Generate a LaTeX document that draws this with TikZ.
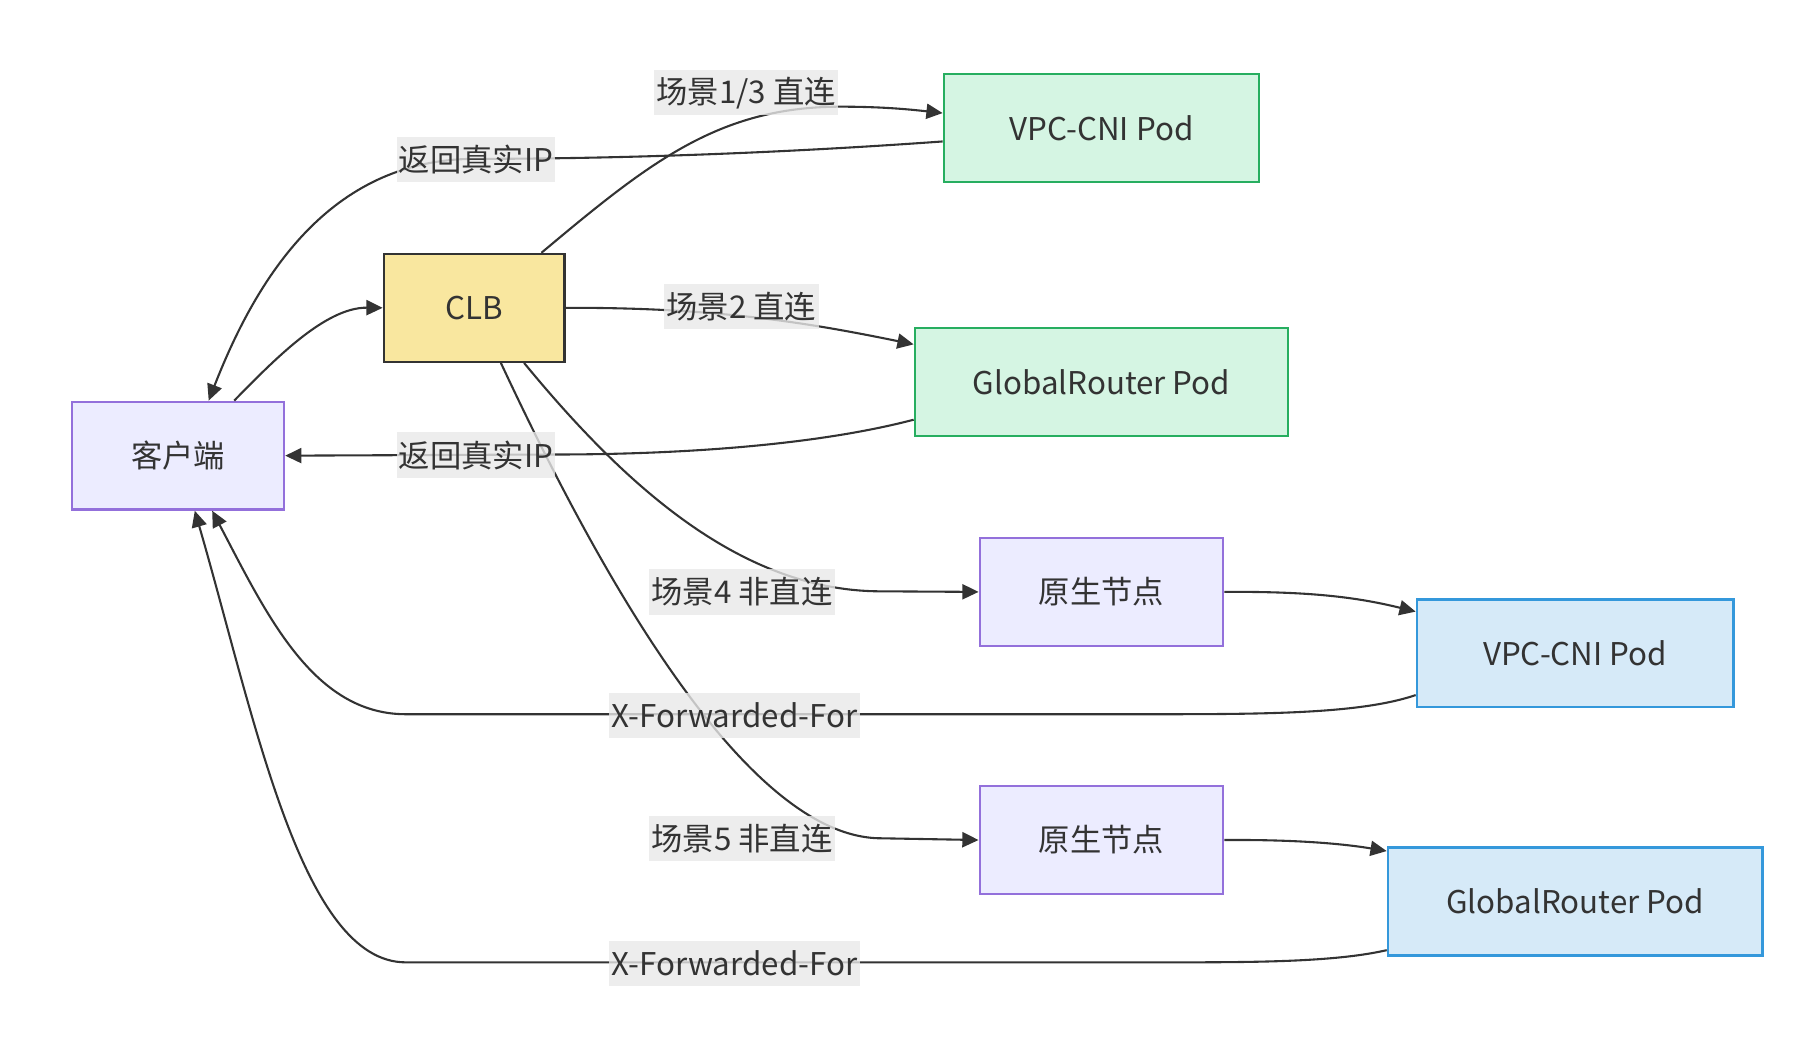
\documentclass[tikz,border=0pt]{standalone}
\usepackage{fontspec}
\setmainfont{Noto Sans CJK SC}
\usetikzlibrary{arrows.meta}
\definecolor{ink}{HTML}{333333}
\definecolor{lav}{HTML}{ECECFF}
\definecolor{lavline}{HTML}{9370DB}
\definecolor{clbfill}{HTML}{F9E79F}
\definecolor{grnfill}{HTML}{D5F5E3}
\definecolor{grnline}{HTML}{27AE60}
\definecolor{bluefill}{HTML}{D6EAF8}
\definecolor{blueline}{HTML}{3498DB}
\definecolor{lblgray}{HTML}{E8E8E8}
\begin{document}
\begin{tikzpicture}[x=0.5pt,y=-0.5pt,>={Triangle[length=7pt,width=6.5pt]},
  box/.style={draw,line width=1pt,minimum height=46.5pt,text=ink,font=\fontsize{13.5}{16}\selectfont},
  plainbox/.style={box,fill=lav,draw=lavline},
  clbbox/.style={box,fill=clbfill,draw=ink},
  grnbox/.style={box,fill=grnfill,draw=grnline},
  bluebox/.style={box,fill=bluefill,draw=blueline},
  lbl/.style={fill=lblgray,fill opacity=.8,text opacity=1,text=ink,inner xsep=1pt,inner ysep=0pt,
    minimum height=19.5pt,font=\fontsize{13.5}{16}\selectfont},
  link/.style={draw=ink,line width=0.9pt,->}]
\useasboundingbox (0,0) rectangle (1568,900.5);
\path
(153.5,393)  node[plainbox,minimum width=91.5pt]  (client) {客户端}
(409,265.5)  node[clbbox,minimum width=78pt]      (clb)    {CLB}
(950,110.5)  node[grnbox,minimum width=136pt]     (vpcA)   {VPC-CNI Pod}
(950,329.5)  node[grnbox,minimum width=161pt]     (grA)    {GlobalRouter Pod}
(950,510.5)  node[plainbox,minimum width=105pt]   (nodeA)  {原生节点}
(1358.5,563.5) node[bluebox,minimum width=136.5pt] (vpcB)  {VPC-CNI Pod}
(950,724.5)  node[plainbox,minimum width=105pt]   (nodeB)  {原生节点}
(1358.5,777.5) node[bluebox,minimum width=161.5pt] (grB)   {GlobalRouter Pod};
\draw[link] ([xshift=24.25pt]client.north) .. controls (235,312) and (280,265) .. (clb.west);
\draw[link] ([xshift=29pt]clb.north) .. controls (560,140) and (620,92) .. (725,92)
  .. controls (765,92) and (790,95) .. ([yshift=6.5pt]vpcA.west);
\draw[link] ([yshift=-5.75pt]vpcA.west) .. controls (660,133) and (520,137) .. (410,137)
  .. controls (290,137) and (225,230) .. ([xshift=13.25pt]client.north);
\draw[link] (clb.east) .. controls (620,265) and (700,279) .. ([yshift=16.25pt]grA.west);
\draw[link] ([yshift=-16.25pt]grA.west) .. controls (700,385) and (580,392) .. (477,392) -- (client.east);
\draw[link] ([xshift=21.5pt]clb.south) .. controls (540,420) and (640,510) .. (760,510) -- (nodeA.west);
\draw[link] ([xshift=11.5pt]clb.south) .. controls (510,480) and (640,723) .. (760,723) -- (nodeB.west);
\draw[link] (nodeA.east) .. controls (1130,510) and (1170,515) .. ([yshift=18pt]vpcB.west);
\draw[link] ([yshift=-18pt]vpcB.west) .. controls (1175,615) and (1100,616) .. (1000,616) -- (350,616)
  .. controls (270,616) and (230,530) .. ([xshift=14.75pt]client.south);
\draw[link] (nodeB.east) .. controls (1120,724) and (1160,728) .. ([yshift=21.75pt]grB.west);
\draw[link] ([yshift=-21pt]grB.west) .. controls (1150,830) and (1080,830) .. (1000,830) -- (350,830)
  .. controls (260,830) and (220,620) .. ([xshift=7.25pt]client.south);
\path
(643.5,80)   node[lbl] (l13) {场景1/3 直连}
(410.5,137.5) node[lbl] (lr1) {返回真实IP}
(639.5,264.5) node[lbl] (l2)  {场景2 直连}
(410.5,392.5) node[lbl] (lr2) {返回真实IP}
(640,510.5)  node[lbl] (l4)  {场景4 非直连}
(633.5,617)  node[lbl] (lx1) {X-Forwarded-For}
(640,723.5)  node[lbl] (l5)  {场景5 非直连}
(633.5,831)  node[lbl] (lx2) {X-Forwarded-For};
\end{tikzpicture}
\end{document}
